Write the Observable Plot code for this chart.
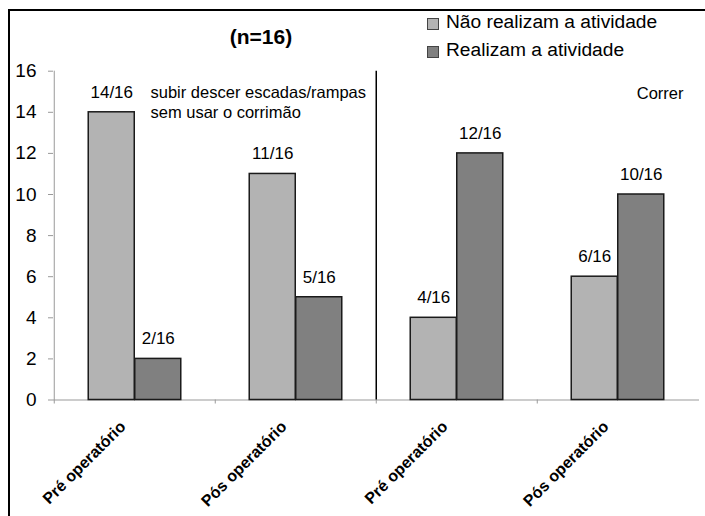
<!DOCTYPE html>
<html><head><meta charset="utf-8">
<script src="https://cdn.jsdelivr.net/npm/d3@7"></script>
<script src="https://cdn.jsdelivr.net/npm/@observablehq/plot@0.6"></script>
<style>
body{margin:0;background:#fff;font-family:"Liberation Sans",Arial,sans-serif;color:#000;}
#wrap{position:relative;width:705px;height:516px;overflow:hidden;}
#border{position:absolute;left:8px;top:9px;right:-10px;bottom:-10px;border-left:2px solid #000;border-top:2px solid #000;pointer-events:none;}
#header{position:relative;height:62px;}
#title{position:absolute;left:161px;width:200px;text-align:center;top:26px;font-weight:bold;font-size:21px;line-height:21px;}
.li{position:absolute;left:427px;height:28px;line-height:28px;font-size:19.2px;white-space:nowrap;}
.sw{position:absolute;left:0;top:10px;width:10px;height:10px;border:1px solid #444;}
.lt{position:absolute;left:19px;top:0;}
#chart svg{display:block;}
g[aria-label="y-axis tick"]{stroke:#999;}
g[aria-label="y-axis tick label"]{fill:#000;}
g[aria-label="x-axis tick label"]{fill:#000;font-weight:bold;}
</style>
</head><body>
<div id="wrap">
  <div id="header">
    <div id="title">(n=16)</div>
    <div id="legend"></div>
  </div>
  <div id="chart"></div>
  <div id="border"></div>
</div>
<script>
// ---- data ----
const categoryKeys = ["escadas-pre", "escadas-pos", "correr-pre", "correr-pos"];
const tickLabels = ["Pré operatório", "Pós operatório", "Pré operatório", "Pós operatório"];
const seriesNames = ["Não realizam a atividade", "Realizam a atividade"];
const naoRealizam = [14, 11, 4, 6];
const realizam = [2, 5, 12, 10];
const total = 16;
const activityNotes = ["subir descer escadas/rampas\nsem usar o corrimão", "Correr"];
const yTicks = [0, 2, 4, 6, 8, 10, 12, 14, 16];
const seriesColors = ["#b3b3b3", "#808080"];

// ---- legend (html) ----
const legend = document.getElementById("legend");
seriesNames.forEach((s, i) => {
  const row = document.createElement("div");
  row.className = "li";
  row.style.top = (8 + i * 28.4) + "px";
  row.innerHTML = `<span class="sw" style="background:${seriesColors[i]}"></span><span class="lt">${s}</span>`;
  legend.appendChild(row);
});

// ---- layout ----
const W = 705, H = 454;
const mL = 53, mR = 6, mT = 8.7, mB = 116.5;
const bw = (W - mL - mR) / categoryKeys.length;
const barW = bw * 0.288;
const outer = (bw - 2 * barW) / 2;

const rows0 = categoryKeys.map((c, i) => ({cat: c, value: naoRealizam[i]}));
const rows1 = categoryKeys.map((c, i) => ({cat: c, value: realizam[i]}));

const chart = Plot.plot({
  width: W, height: H,
  marginLeft: mL, marginRight: mR, marginTop: mT, marginBottom: mB,
  style: {fontFamily: "'Liberation Sans', Arial, sans-serif", background: "transparent", overflow: "visible"},
  x: {type: "band", domain: categoryKeys, padding: 0},
  y: {domain: [0, 16]},
  marks: [
    Plot.ruleY([0], {stroke: "#999", strokeWidth: 1}),
    Plot.ruleX([categoryKeys[0]], {x: d => d, dx: -bw / 2, stroke: "#999", insetBottom: -4}),
    Plot.ruleX(categoryKeys.slice(1), {x: d => d, dx: -bw / 2, y1: () => 0, y2: () => 0, insetBottom: -4, stroke: "#999"}),
    Plot.ruleX([categoryKeys[2]], {x: d => d, dx: -bw / 2, stroke: "#000", strokeWidth: 1.5}),
    Plot.barY(rows0, {x: "cat", y: "value", fill: seriesColors[0], stroke: "#1a1a1a", strokeWidth: 1.5, insetLeft: outer, insetRight: outer + barW}),
    Plot.barY(rows1, {x: "cat", y: "value", fill: seriesColors[1], stroke: "#1a1a1a", strokeWidth: 1.5, insetLeft: outer + barW, insetRight: outer}),
    Plot.text(rows0, {x: "cat", y: "value", text: d => `${d.value}/${total}`, dx: -barW / 2, dy: -20, fontSize: 17, fill: "#000"}),
    Plot.text(rows1, {x: "cat", y: "value", text: d => `${d.value}/${total}`, dx: barW / 2, dy: -20, fontSize: 17, fill: "#000"}),
    Plot.text([activityNotes[0]], {text: d => d, frameAnchor: "top-left", textAnchor: "start", lineAnchor: "top", dx: 97, dy: 12.5, fontSize: 16.5, lineHeight: 1.2, fill: "#000"}),
    Plot.text([activityNotes[1]], {text: d => d, frameAnchor: "top-right", textAnchor: "end", lineAnchor: "top", dx: -16, dy: 16, fontSize: 16.5, fill: "#000"}),
    Plot.axisY({ticks: yTicks, tickSize: 5, tickPadding: 12, fontSize: 19, label: null}),
    Plot.axisX({tickRotate: -45, tickSize: 0, tickPadding: 24, dx: -12, fontSize: 16, label: null,
      tickFormat: d => tickLabels[categoryKeys.indexOf(d)]})
  ]
});
document.getElementById("chart").appendChild(chart);
</script>
</body></html>
